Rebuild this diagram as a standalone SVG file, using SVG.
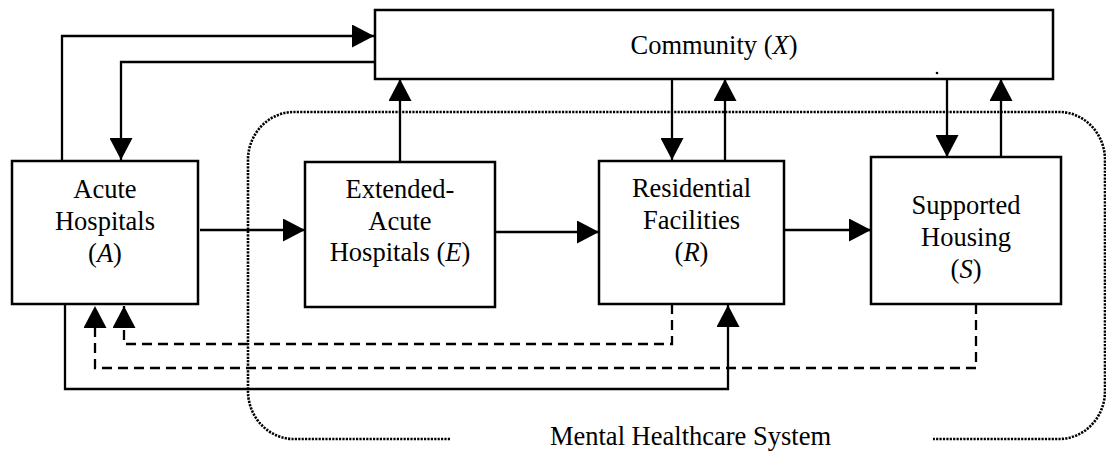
<svg xmlns="http://www.w3.org/2000/svg" width="1106" height="452" viewBox="0 0 1106 452">
  <style>
    .box { fill: #ffffff; stroke: #000000; stroke-width: 2.5; }
    .lbl { font-family: "Liberation Serif", "Times New Roman", serif; font-size: 26.5px; fill: #000000; text-anchor: middle; }
    .var { font-style: italic; }
    .flow { fill: none; stroke: #000000; stroke-width: 2.3; }
    .dash { stroke-dasharray: 10 6; }
    .boundary { fill: none; stroke: #000000; stroke-width: 2.6; stroke-dasharray: 2.2 1.2; }
  </style>
  <defs>
    <marker id="head" markerUnits="userSpaceOnUse" markerWidth="23" markerHeight="23" refX="22" refY="11.5" orient="auto">
      <path d="M0,0 L22,11.5 L0,23 Z" fill="#000000"/>
    </marker>
  </defs>

  <rect width="1106" height="452" fill="#ffffff"/>

  <!-- Mental healthcare system boundary (dotted, open at the bottom for its label) -->
  <g id="system-boundary">
    <path class="boundary" d="M450,439 H294 A46,48 0 0 1 248,391 V160 A46,48 0 0 1 294,112 H1060 A46,48 0 0 1 1105,160 V391 A46,48 0 0 1 1060,439 H933"/>
    <text class="lbl" x="690.5" y="445">Mental Healthcare System</text>
  </g>

  <!-- Flows between compartments -->
  <g id="connectors">
    <path class="flow" d="M62,161 V36 H374" marker-end="url(#head)"/>
    <path class="flow" d="M375,62 H121 V160" marker-end="url(#head)"/>
    <path class="flow" d="M400,162 V79" marker-end="url(#head)"/>
    <path class="flow" d="M672,79 V160" marker-end="url(#head)"/>
    <path class="flow" d="M725,161 V79" marker-end="url(#head)"/>
    <path class="flow" d="M947,79 V157" marker-end="url(#head)"/>
    <path class="flow" d="M1001,157 V79" marker-end="url(#head)"/>
    <path class="flow" d="M200,230 H305" marker-end="url(#head)"/>
    <path class="flow" d="M495,232 H599" marker-end="url(#head)"/>
    <path class="flow" d="M784,230 H871" marker-end="url(#head)"/>
    <path class="flow" d="M65,304 V389 H728 V305" marker-end="url(#head)"/>
    <path class="flow dash" d="M672,304 V344 H124 V306" marker-end="url(#head)"/>
    <path class="flow dash" d="M976,304 V368 H95 V306" marker-end="url(#head)"/>
  </g>

  <g id="community">
    <rect class="box" x="375" y="10" width="678" height="69"/>
    <text class="lbl" x="714" y="54">Community (<tspan class="var">X</tspan>)</text>
    <circle cx="937" cy="73" r="1.3" fill="#000000"/>
  </g>

  <g id="acute-hospitals">
    <rect class="box" x="12" y="161" width="186" height="143"/>
    <text class="lbl" x="105" y="198">Acute</text>
    <text class="lbl" x="105" y="230">Hospitals</text>
    <text class="lbl" x="105" y="262">(<tspan class="var">A</tspan>)</text>
  </g>

  <g id="extended-acute-hospitals">
    <rect class="box" x="305" y="162" width="190" height="145"/>
    <text class="lbl" x="400" y="198">Extended-</text>
    <text class="lbl" x="400" y="230">Acute</text>
    <text class="lbl" x="400" y="261">Hospitals (<tspan class="var">E</tspan>)</text>
  </g>

  <g id="residential-facilities">
    <rect class="box" x="599" y="161" width="185" height="143"/>
    <text class="lbl" x="691.5" y="197">Residential</text>
    <text class="lbl" x="691.5" y="229">Facilities</text>
    <text class="lbl" x="691.5" y="261">(<tspan class="var">R</tspan>)</text>
  </g>

  <g id="supported-housing">
    <rect class="box" x="871" y="157" width="190" height="147"/>
    <text class="lbl" x="966" y="214">Supported</text>
    <text class="lbl" x="966" y="246">Housing</text>
    <text class="lbl" x="966" y="278">(<tspan class="var">S</tspan>)</text>
  </g>
</svg>
